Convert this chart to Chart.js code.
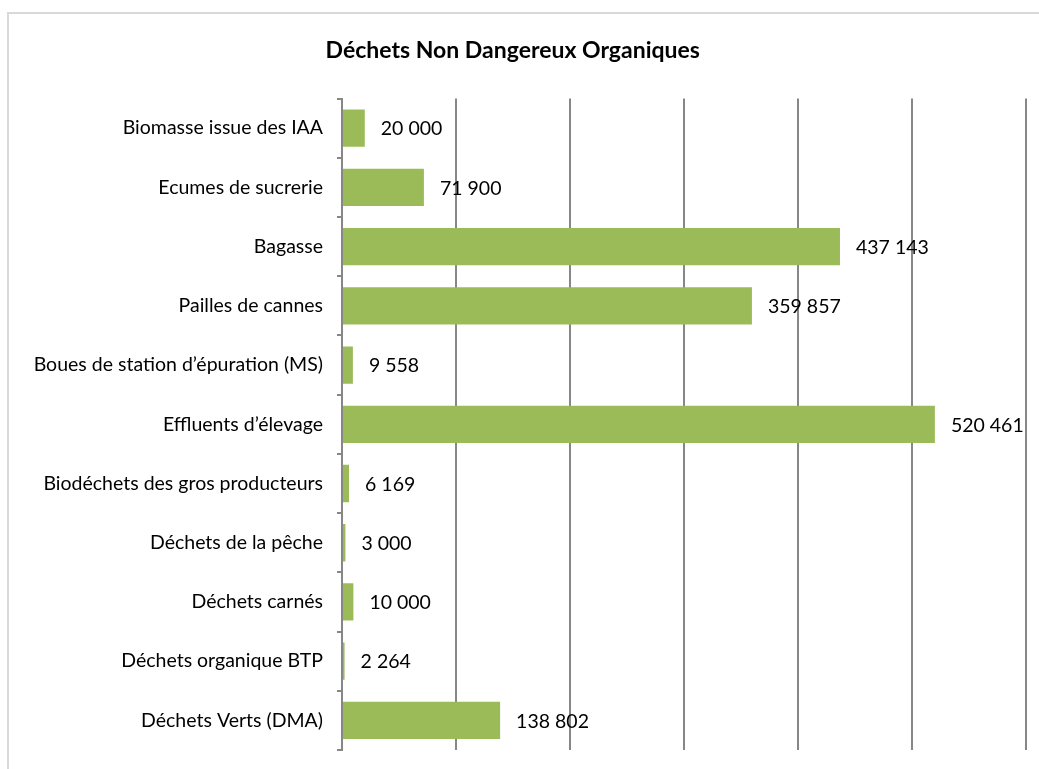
<!DOCTYPE html>
<html>
<head>
<meta charset="utf-8">
<script src="https://cdn.jsdelivr.net/npm/chart.js@4.4.1/dist/chart.umd.min.js"></script>
<style>
  body { margin: 0; background: #fff; overflow: hidden; }
  #cadre { position: absolute; left: 7px; top: 12px; width: 1100px; height: 800px; border: 2px solid #d9d9d9; }
  #myChartDechets { position: absolute; left: 0; top: 0; }
</style>
</head>
<body>
<div id="cadre"></div>
<canvas id="myChartDechets" width="1039" height="769"></canvas>
<script>
const categories = [
    'Biomasse issue des IAA',
    'Ecumes de sucrerie',
    'Bagasse',
    'Pailles de cannes',
    'Boues de station d\u2019épuration (MS)',
    'Effluents d\u2019élevage',
    'Biodéchets des gros producteurs',
    'Déchets de la pêche',
    'Déchets carnés',
    'Déchets organique BTP',
    'Déchets Verts (DMA)'
]
const tonnages = [20000, 71900, 437143, 359857, 9558, 520461, 6169, 3000, 10000, 2264, 138802]
const xMax = 600000
const xStep = 100000

const formatNombre = (n) => String(n).replace(/\B(?=(\d{3})+(?!\d))/g, ' ')

// etiquettes de valeur a droite des barres
const etiquettes = {
    id: 'etiquettes',
    afterDatasetsDraw(chart) {
        const c = chart.ctx
        c.save()
        c.font = '19.5px Lato'
        c.fillStyle = '#000'
        c.textBaseline = 'middle'
        chart.getDatasetMeta(0).data.forEach((bar, i) => {
            c.fillText(formatNombre(tonnages[i]), bar.x + 16, bar.y + 1)
        })
        c.restore()
    }
}

var ctx = document.getElementById('myChartDechets')
var myChart = new Chart(ctx, {
    type: 'bar',
    data: {
        labels: categories,
        datasets: [{
            data: tonnages,
            backgroundColor: '#9bbb59',
            barPercentage: 0.63,
            categoryPercentage: 1
        }]
    },
    options: {
        indexAxis: 'y',
        responsive: false,
        animation: false,
        layout: { padding: { left: 0, right: 13.5, top: 0, bottom: 19 } },
        plugins: {
            legend: { display: false },
            tooltip: { enabled: false },
            title: {
                display: true,
                text: 'Déchets Non Dangereux Organiques',
                color: '#000',
                font: { family: 'Lato', size: 23, weight: 'bold', lineHeight: 1.2 },
                padding: { top: 37, bottom: 34 }
            }
        },
        scales: {
            x: {
                min: 0,
                max: xMax,
                ticks: { display: false, stepSize: xStep },
                grid: { color: '#878787', lineWidth: 2, drawTicks: false },
                border: { display: false },
                afterFit: (s) => { s.height = 0; s.paddingLeft = 0; s.paddingRight = 0 }
            },
            y: {
                ticks: { color: '#000', font: { family: 'Lato', size: 19.5 }, padding: 14 },
                grid: { drawOnChartArea: false, color: '#878787', lineWidth: 2, tickLength: 5, offset: true },
                border: { display: true, color: '#878787', width: 2 },
                afterFit: (s) => { s.width = 342; s.paddingTop = 0; s.paddingBottom = 0 }
            }
        }
    },
    plugins: [etiquettes]
})
</script>
</body>
</html>
